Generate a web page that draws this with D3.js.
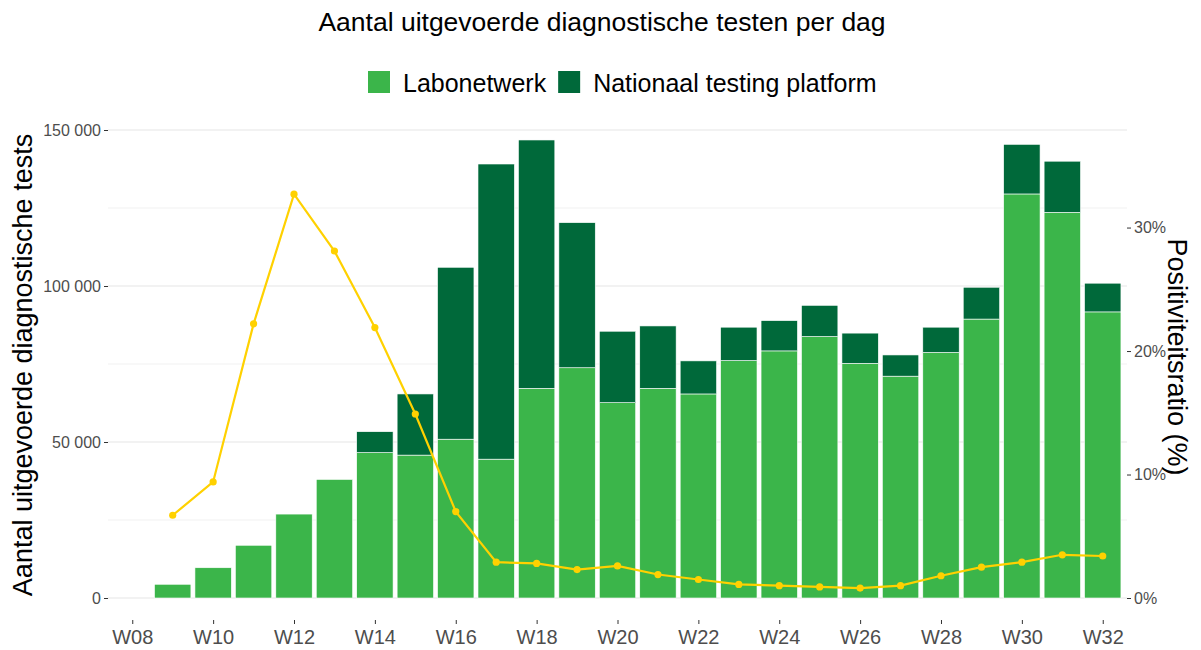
<!DOCTYPE html>
<html>
<head>
<meta charset="utf-8">
<script src="https://cdn.jsdelivr.net/npm/d3@7"></script>
<style>
  body { margin: 0; background: #fff; }
  text { font-family: "Liberation Sans", Arial, sans-serif; }
</style>
</head>
<body>
<script>
// weekly data
const weeks = ["W08","W09","W10","W11","W12","W13","W14","W15","W16","W17","W18","W19","W20",
               "W21","W22","W23","W24","W25","W26","W27","W28","W29","W30","W31","W32"];
const labonetwerk = [0, 4400, 9700, 16900, 26900, 38000, 46600, 45800, 50900, 44500, 67200, 73800, 62600,
                     67200, 65400, 76100, 79200, 83800, 75200, 71100, 78700, 89400, 129500, 123600, 91700];
const nationaal = [0, 0, 0, 0, 0, 0, 6700, 19600, 55100, 94600, 79600, 46500, 22900,
                   20000, 10600, 10700, 9700, 10000, 9700, 6800, 8100, 10200, 15900, 16400, 9200];
const positiviteit = [null, 6.7, 9.4, 22.2, 32.7, 28.1, 21.9, 14.9, 7.0, 2.9, 2.8, 2.3, 2.6,
                      1.9, 1.5, 1.1, 1.0, 0.9, 0.8, 1.0, 1.8, 2.5, 2.9, 3.5, 3.4];
const yTicks = [0, 50000, 100000, 150000];
const yMinor = [25000, 75000, 125000];
const pctTicks = [0, 10, 20, 30];
const xTicks = ["W08","W10","W12","W14","W16","W18","W20","W22","W24","W26","W28","W30","W32"];

const width = 1201, height = 650;
const pLeft = 108, pRight = 1127, pBottom = 620;
const cLabo = "#3bb54a", cNat = "#00693a", cLine = "#ffd100";

const svg = d3.select("body").append("svg")
  .attr("width", width).attr("height", height);

const x = d3.scalePoint().domain(weeks).range([pLeft, pRight]).padding(0.6);
const y = d3.scaleLinear().domain([0, 150000]).range([598, 130]);
const yr = d3.scaleLinear().domain([0, 37.9]).range([598, 130]);
const bw = x.step() * 0.9;

// grid
svg.append("g").selectAll("line").data(yMinor).join("line")
  .attr("x1", pLeft).attr("x2", pRight)
  .attr("y1", d => y(d)).attr("y2", d => y(d))
  .attr("stroke", "#eeeeee").attr("stroke-width", 0.8);
svg.append("g").selectAll("line").data(yTicks).join("line")
  .attr("x1", pLeft).attr("x2", pRight)
  .attr("y1", d => y(d)).attr("y2", d => y(d))
  .attr("stroke", "#e6e6e6").attr("stroke-width", 1.1);

// stacked bars
const rows = weeks.map((w, i) => ({ week: w, labo: labonetwerk[i], nat: nationaal[i], pos: positiviteit[i] }));
const bars = svg.append("g");
bars.selectAll("rect.labo").data(rows.filter(d => d.labo > 0)).join("rect")
  .attr("class", "labo")
  .attr("x", d => x(d.week) - bw / 2).attr("width", bw)
  .attr("y", d => y(d.labo)).attr("height", d => y(0) - y(d.labo))
  .attr("fill", cLabo).attr("stroke", "#fff").attr("stroke-width", 0.6);
bars.selectAll("rect.nat").data(rows.filter(d => d.nat > 0)).join("rect")
  .attr("class", "nat")
  .attr("x", d => x(d.week) - bw / 2).attr("width", bw)
  .attr("y", d => y(d.labo + d.nat)).attr("height", d => y(d.labo) - y(d.labo + d.nat))
  .attr("fill", cNat).attr("stroke", "#fff").attr("stroke-width", 0.6);

// positivity line
const pts = rows.filter(d => d.pos != null);
svg.append("path").datum(pts)
  .attr("fill", "none").attr("stroke", cLine).attr("stroke-width", 2.2)
  .attr("d", d3.line().x(d => x(d.week)).y(d => yr(d.pos)));
svg.append("g").selectAll("circle").data(pts).join("circle")
  .attr("cx", d => x(d.week)).attr("cy", d => yr(d.pos)).attr("r", 3.6)
  .attr("fill", cLine);

// axes
const fmt = d => d3.format(",")(d).replace(/,/g, " ");
const yAxis = g => g
  .attr("transform", `translate(${pLeft},0)`)
  .call(d3.axisLeft(y).tickValues(yTicks).tickFormat(fmt).tickSize(4).tickPadding(3))
  .call(g => g.select(".domain").remove())
  .call(g => g.selectAll("line").attr("stroke", "#333"))
  .call(g => g.selectAll("text").attr("fill", "#4d4d4d").style("font-size", "16px"));
const yrAxis = g => g
  .attr("transform", `translate(${pRight},0)`)
  .call(d3.axisRight(yr).tickValues(pctTicks).tickFormat(d => d + "%").tickSize(4).tickPadding(3))
  .call(g => g.select(".domain").remove())
  .call(g => g.selectAll("line").attr("stroke", "#333"))
  .call(g => g.selectAll("text").attr("fill", "#4d4d4d").style("font-size", "16px"));
const xAxis = g => g
  .attr("transform", `translate(0,${pBottom})`)
  .call(d3.axisBottom(x).tickValues(xTicks).tickSize(4).tickPadding(6))
  .call(g => g.select(".domain").remove())
  .call(g => g.selectAll("line").attr("stroke", "#333"))
  .call(g => g.selectAll("text").attr("fill", "#4d4d4d").style("font-size", "20px"));
svg.append("g").call(yAxis);
svg.append("g").call(yrAxis);
svg.append("g").call(xAxis);

// titles
svg.append("text").attr("x", 602).attr("y", 31).attr("text-anchor", "middle")
  .style("font-size", "26.5px").attr("fill", "#000")
  .text("Aantal uitgevoerde diagnostische testen per dag");
svg.append("text").attr("transform", "translate(32,365) rotate(-90)").attr("text-anchor", "middle")
  .style("font-size", "27px").attr("fill", "#000")
  .text("Aantal uitgevoerde diagnostische tests");
svg.append("text").attr("transform", "translate(1168,357) rotate(90)").attr("text-anchor", "middle")
  .style("font-size", "27px").attr("fill", "#000")
  .text("Positiviteitsratio (%)");

// legend
const legendItems = [{ label: "Labonetwerk", color: cLabo }, { label: "Nationaal testing platform", color: cNat }];
const lg = svg.append("g");
let lx = 368;
legendItems.forEach(it => {
  lg.append("rect").attr("x", lx).attr("y", 71).attr("width", 22).attr("height", 22).attr("fill", it.color);
  const t = lg.append("text").attr("x", lx + 35).attr("y", 92)
    .style("font-size", "25px").attr("fill", "#000").text(it.label);
  lx += 35 + t.node().getComputedTextLength() + 12;
});
</script>
</body>
</html>
